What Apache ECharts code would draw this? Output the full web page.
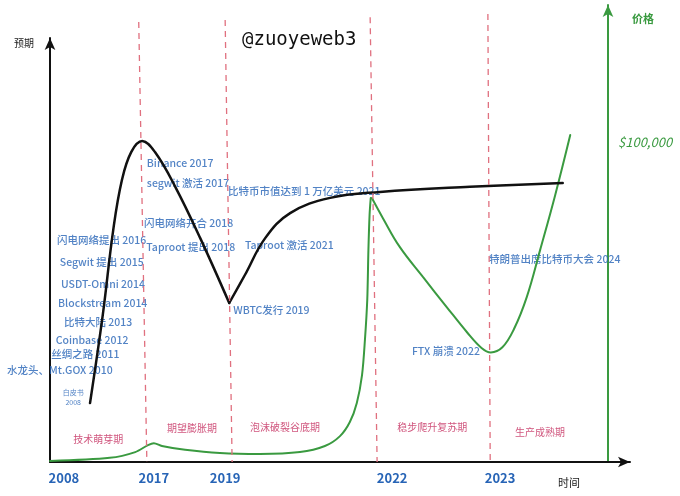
<!DOCTYPE html>
<html>
<head>
<meta charset="utf-8">
<script src="https://cdn.jsdelivr.net/npm/echarts@6/dist/echarts.min.js"></script>
<style>
  html, body { margin: 0; padding: 0; background: #fff; }
  #main { width: 680px; height: 496px; }
</style>
</head>
<body>
<div id="main"></div>
<script>
// x is a sketch time scale 0..100 (not linear in years), y "预期" 0..100, price in USD

// expectation curve (black): rise to the peak and fall into the WBTC trough ...
var hypeUpX = [6.9, 9.1, 10.9, 12.4, 14.0, 15.9, 18.1, 21.6, 25.9, 30.9];
var hypeUpY = [13.9, 34.7, 54.7, 66.5, 73.1, 75.7, 73.1, 64.9, 52.8, 37.5];
// ... then the slow climb onto the plateau
var hypeOnX = [30.9, 33.6, 37.1, 41.4, 48.3, 56.9, 72.4, 88.4];
var hypeOnY = [37.5, 44.1, 52.8, 58.7, 62.3, 63.7, 64.9, 65.8];

// price curve (green): flat years and the 2021 spike ...
var priceUpX = [0, 10.3, 14.7, 16.9, 17.9, 19.3, 23.3, 29.3, 36.2, 43.1, 47.4, 50.0, 51.7, 52.9, 53.8, 54.3,
                54.7, 54.9, 55.1, 55.3];
var priceUpY = [300, 1300, 3100, 5300, 5900, 5000, 3800, 2800, 2500, 3100, 5000, 8100, 12500, 18500, 27200, 38200,
                50700, 66300, 77300, 82600];
// ... then the FTX crash and the 2024 recovery
var priceOnX = [55.5, 57.4, 60.3, 64.3, 68.4, 71.9, 74.4, 76.0, 78.0, 80.0, 82.2, 84.5, 87.1, 89.7];
var priceOnY = [82600, 76300, 67300, 57900, 48500, 40600, 35700, 34300, 35900, 41600, 51600, 66300, 83500, 102300];

// x-axis year labels
var yearLabels = ['2008', '2017', '2019', '2022', '2023'];
var yearPos = [2.4, 17.9, 30.2, 59.0, 77.6];

// phase boundaries (slightly slanted, hand drawn): top x, bottom x, top price
var boundTopX = [15.3, 30.2, 55.2, 75.5];
var boundBotX = [16.7, 31.4, 56.4, 75.9];
var boundTopY = [137700, 138300, 139200, 140200];

// phases
var phaseNames = ['技术萌芽期', '期望膨胀期', '泡沫破裂谷底期', '稳步爬升复苏期', '生产成熟期'];
var phaseX = [8.3, 24.5, 40.5, 65.9, 84.5];
var phaseY = [5.4, 8.0, 8.3, 8.3, 7.1];

// events (text starts at x, centred on y)
var eventNames = ['水龙头、Mt.GOX 2010', '丝绸之路 2011', 'Coinbase 2012', '比特大陆 2013',
  'Blockstream 2014', 'USDT-Omni 2014', 'Segwit 提出 2015', '闪电网络提出 2016',
  'Binance 2017', 'segwit 激活 2017', '闪电网络开合 2018', 'Taproot 提出 2018',
  '比特币市值达到 1 万亿美元 2021', 'Taproot 激活 2021', 'WBTC发行 2019', 'FTX 崩溃 2022',
  '特朗普出席比特币大会 2024'];
var eventX = [-7.4, 0.2, 1.0, 2.4, 1.4, 1.9, 1.7, 1.2, 16.7, 16.7, 16.2, 16.6, 30.7, 33.6, 31.6, 62.4, 75.7];
var eventY = [21.7, 25.5, 28.8, 33.0, 37.5, 42.0, 47.2, 52.4, 70.5, 65.8, 56.4, 50.7, 63.9, 51.2, 35.8, 26.2, 47.9];

var whitePaper = ['白皮书\n2008', 4.0, 15.3];

var priceTick = 100000;

var BLUE = '#2764b6', GREEN = '#3a9a40', RED = '#c42a5c';
var FONT = '"Noto Sans CJK SC", "Noto Sans", sans-serif';

function zip(a, b) { return a.map(function (v, i) { return [v, b[i]]; }); }

var chart = echarts.init(document.getElementById('main'));

chart.setOption({
  animation: false,
  backgroundColor: '#fff',
  title: {
    text: '@zuoyeweb3', left: 242, top: 31, padding: 0,
    textStyle: { fontFamily: '"DejaVu Sans Mono", monospace', fontSize: 19, fontWeight: 'normal', color: '#111' }
  },
  grid: [
    { left: 50, right: 50, top: 38, bottom: 34 },
    { left: 50, right: 72, top: 5, bottom: 34 }
  ],
  xAxis: [
    {
      gridIndex: 0, type: 'value', min: 0, max: 100,
      name: '时间', nameLocation: 'end', nameGap: -61,
      nameTextStyle: { fontFamily: FONT, fontSize: 11, color: '#222', align: 'center', verticalAlign: 'top', padding: [15, 0, 0, 0] },
      axisLine: { show: true, symbol: ['none', 'arrow'], symbolSize: [8, 12], lineStyle: { color: '#111', width: 2 } },
      axisTick: { show: false },
      splitLine: { show: false },
      axisLabel: {
        customValues: yearPos, margin: 10,
        fontFamily: FONT, fontSize: 13, fontWeight: 'bold', color: BLUE,
        formatter: function (v) {
          for (var i = 0; i < yearPos.length; i++) if (Math.abs(yearPos[i] - v) < 0.01) return yearLabels[i];
          return '';
        }
      }
    },
    { gridIndex: 1, type: 'value', min: 0, max: 96.21, show: false }
  ],
  yAxis: [
    {
      gridIndex: 0, type: 'value', min: 0, max: 100,
      name: '预期', nameLocation: 'end', nameGap: -5,
      nameTextStyle: { fontFamily: FONT, fontSize: 10, color: '#222', align: 'right', verticalAlign: 'middle', padding: [0, 16, 0, 0] },
      axisLine: { show: true, symbol: ['none', 'arrow'], symbolSize: [8, 12], lineStyle: { color: '#111', width: 2 } },
      axisTick: { show: false }, axisLabel: { show: false }, splitLine: { show: false }
    },
    {
      gridIndex: 1, type: 'value', min: 0, max: 143000, position: 'right',
      name: '价格', nameLocation: 'end', nameGap: -14,
      nameTextStyle: { fontFamily: FONT, fontSize: 11, fontWeight: 'bold', color: GREEN, align: 'left', verticalAlign: 'middle', padding: [0, 0, 0, 24] },
      axisLine: { show: true, onZero: false, symbol: ['none', 'arrow'], symbolSize: [8, 12], lineStyle: { color: GREEN, width: 2 } },
      axisTick: { show: false }, splitLine: { show: false },
      axisLabel: {
        customValues: [priceTick], margin: 10, inside: false,
        fontFamily: FONT, fontSize: 13, fontStyle: 'italic', color: GREEN,
        formatter: function (v) { return '$' + v.toLocaleString('en-US'); }
      }
    }
  ],
  series: [
    {
      name: '价格', type: 'line', xAxisIndex: 1, yAxisIndex: 1,
      data: zip(priceUpX, priceUpY), smooth: 0.3, showSymbol: false,
      lineStyle: { color: GREEN, width: 2, cap: 'round' },
      markLine: {
        silent: true, symbol: ['none', 'none'], label: { show: false },
        lineStyle: { color: '#e0707f', type: [6, 5], width: 1.3 },
        data: boundTopX.map(function (x, i) {
          return [{ coord: [x, boundTopY[i]] }, { coord: [boundBotX[i], 0] }];
        })
      }
    },
    {
      name: '价格', type: 'line', xAxisIndex: 1, yAxisIndex: 1,
      data: zip(priceOnX, priceOnY), smooth: 0.4, showSymbol: false,
      lineStyle: { color: GREEN, width: 2, cap: 'round' }
    },
    {
      name: '预期', type: 'line', xAxisIndex: 0, yAxisIndex: 0,
      data: zip(hypeUpX, hypeUpY), smooth: 0.4, showSymbol: false,
      lineStyle: { color: '#111', width: 2.5, cap: 'round' }
    },
    {
      name: '预期', type: 'line', xAxisIndex: 0, yAxisIndex: 0,
      data: zip(hypeOnX, hypeOnY), smooth: 0.4, showSymbol: false,
      lineStyle: { color: '#111', width: 2.5, cap: 'round' }
    },
    {
      name: 'phases', type: 'scatter', xAxisIndex: 0, yAxisIndex: 0, symbolSize: 0, silent: true,
      data: phaseNames.map(function (n, i) { return { name: n, value: [phaseX[i], phaseY[i]] }; }),
      label: { show: true, position: 'inside', formatter: '{b}', fontFamily: FONT, fontSize: 10, color: RED }
    },
    {
      name: 'events', type: 'scatter', xAxisIndex: 0, yAxisIndex: 0, symbolSize: 0, silent: true, clip: false,
      data: eventNames.map(function (n, i) { return { name: n, value: [eventX[i], eventY[i]] }; }),
      label: { show: true, position: 'right', distance: 0, align: 'left', formatter: '{b}', fontFamily: FONT, fontSize: 10.5, fontWeight: 500, color: BLUE }
    },
    {
      name: 'whitepaper', type: 'scatter', xAxisIndex: 0, yAxisIndex: 0, symbolSize: 0, silent: true,
      data: [{ name: whitePaper[0], value: [whitePaper[1], whitePaper[2]] }],
      label: { show: true, position: 'inside', formatter: '{b}', fontFamily: FONT, fontSize: 7, lineHeight: 10, color: BLUE }
    }
  ]
});
</script>
</body>
</html>
